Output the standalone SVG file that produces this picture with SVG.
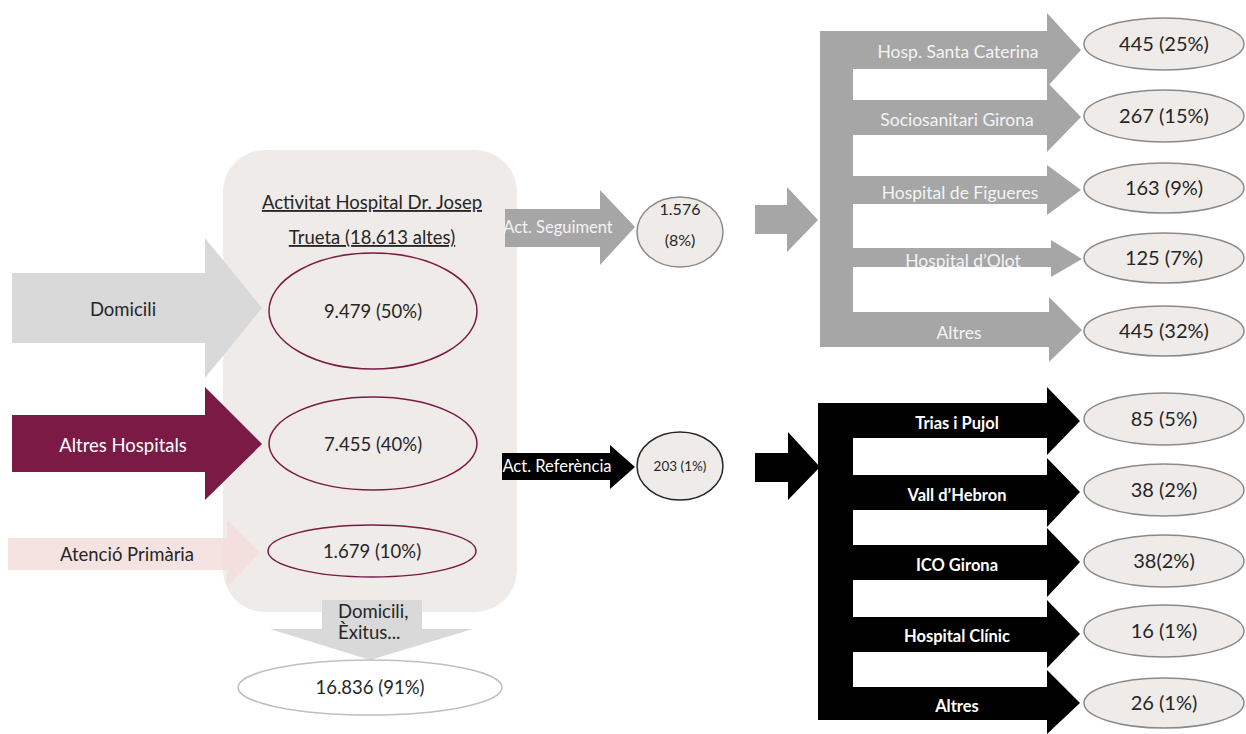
<svg xmlns="http://www.w3.org/2000/svg" width="1246" height="734" viewBox="0 0 1246 734">
<style>
text{font-family:Lato,"Open Sans","Liberation Sans",sans-serif;text-anchor:middle;fill:#262626}
.t20{font-size:20px}
.t18{font-size:18.5px}
.t17{font-size:17.5px}
.t16{font-size:16.5px}
.t15{font-size:16px}
.t13{font-size:13.5px}
.w{fill:#ffffff}
.wg{fill:#f4f4f4}
.b{font-weight:bold}
.gray{fill:#a6a6a6}
.blk{fill:#000000}
.oval{fill:#efebe8;stroke:#8a8a8a;stroke-width:1.5}
.inner{fill:none;stroke:#7a1a45;stroke-width:1.5}
</style>
<rect width="1246" height="734" fill="#ffffff"/>

<g id="hospital">
  <rect x="223" y="150" width="294" height="462" rx="42" fill="#efebe8"/>
  <text class="t18" x="372" y="209" text-decoration="underline">Activitat Hospital Dr. Josep</text>
  <text class="t18" x="372" y="244" text-decoration="underline">Trueta (18.613 altes)</text>
  <g id="n-domicili"><ellipse class="inner" cx="373" cy="311" rx="104" ry="58"/><text class="t18" x="373" y="318">9.479 (50%)</text></g>
  <g id="n-altres"><ellipse class="inner" cx="373" cy="443.5" rx="104" ry="46.5"/><text class="t18" x="373" y="451">7.455 (40%)</text></g>
  <g id="n-primaria"><ellipse class="inner" cx="372" cy="551" rx="104" ry="26"/><text class="t18" x="372" y="558">1.679 (10%)</text></g>
</g>

<g id="sources">
  <g id="domicili">
    <polygon points="12,273 205,273 205,238 262,308 205,378 205,343 12,343" fill="#d9d9d9"/>
    <text class="t18" x="123" y="316">Domicili</text>
  </g>
  <g id="altres-hospitals">
    <polygon points="12,415 205,415 205,387 262,444 205,500 205,472 12,472" fill="#7a1a45"/>
    <text class="t18 w" x="123" y="452">Altres Hospitals</text>
  </g>
  <g id="atencio-primaria">
    <polygon points="8,538 227,538 227,520 260,553 227,587 227,570 8,570" fill="#f2dcdb" opacity="0.8"/>
    <text class="t18" x="127" y="561">Atenció Primària</text>
  </g>
</g>

<g id="connectors">
  <g id="sortida">
    <polygon points="322,600 422,600 422,629 473,629 370,660 270,629 322,629" fill="#d9d9d9"/>
    <text class="t18" x="338" y="618" style="text-anchor:start">Domicili,</text>
    <text class="t18" x="338" y="639" style="text-anchor:start">Èxitus...</text>
  </g>
  <g id="act-seguiment">
    <polygon points="505,209 600,209 600,190 635,227 600,265 600,247 505,247" class="gray"/>
    <text class="t16 wg" x="558" y="233">Act. Seguiment</text>
  </g>
  <polygon id="to-seguiment" points="755,205 787,205 787,187 818,220 787,252 787,234 755,234" class="gray"/>
  <g id="act-referencia">
    <polygon points="502,453 610,453 610,445 635,467 610,489 610,480 502,480" class="blk"/>
    <text class="t16 w" x="557" y="472">Act. Referència</text>
  </g>
  <polygon id="to-referencia" points="755,453 788,453 788,432 820,467 788,500 788,482 755,482" class="blk"/>

  <g id="seguiment-branches">
    <rect x="820" y="31" width="33" height="316" class="gray"/>
    <polygon points="820,31 1047,31 1047,13 1081,50 1047,87 1047,69 820,69" class="gray"/>
    <polygon points="820,100 1047,100 1047,82 1081,117 1047,152 1047,135 820,135" class="gray"/>
    <polygon points="820,176 1047,176 1047,165 1081,190 1047,215 1047,204 820,204" class="gray"/>
    <polygon points="820,248 1051,248 1051,240 1082,259 1051,277 1051,267 820,267" class="gray"/>
    <polygon points="820,312 1049,312 1049,297 1082,330 1049,362 1049,347 820,347" class="gray"/>
    <text class="t17 wg" x="958" y="58">Hosp. Santa Caterina</text>
    <text class="t17 wg" x="957" y="126">Sociosanitari Girona</text>
    <text class="t17 wg" x="960" y="199">Hospital de Figueres</text>
    <text class="t17 wg" x="963" y="267">Hospital d’Olot</text>
    <text class="t17 wg" x="959" y="339">Altres</text>
  </g>

  <g id="referencia-branches">
    <rect x="818" y="403" width="35" height="317" class="blk"/>
    <polygon points="818,403 1047,403 1047,387 1080,421 1047,455 1047,438 818,438" class="blk"/>
    <polygon points="818,475 1047,475 1047,458 1080,492 1047,527 1047,510 818,510" class="blk"/>
    <polygon points="818,545 1047,545 1047,528 1080,562 1047,597 1047,580 818,580" class="blk"/>
    <polygon points="818,617 1047,617 1047,600 1080,634 1047,668 1047,652 818,652" class="blk"/>
    <polygon points="818,687 1047,687 1047,670 1080,703 1047,734 1047,720 818,720" class="blk"/>
    <text class="t16 w b" x="957" y="429">Trias i Pujol</text>
    <text class="t16 w b" x="957" y="501">Vall d’Hebron</text>
    <text class="t16 w b" x="957" y="571">ICO Girona</text>
    <text class="t16 w b" x="957" y="642">Hospital Clínic</text>
    <text class="t16 w b" x="957" y="712">Altres</text>
  </g>
</g>

<g id="exit">
  <ellipse cx="370" cy="687.5" rx="132" ry="27.5" fill="#ffffff" stroke="#bfbfbf" stroke-width="1.5"/>
  <text class="t18" x="370" y="694">16.836 (91%)</text>
</g>

<g id="seguiment">
  <ellipse class="oval" cx="680" cy="232" rx="43" ry="35"/>
  <text class="t15" x="680" y="215">1.576</text>
  <text class="t15" x="680" y="246">(8%)</text>
</g>
<g id="referencia">
  <ellipse cx="680" cy="466" rx="43" ry="34" fill="#efebe8" stroke="#262626" stroke-width="1.5"/>
  <text class="t13" x="680" y="471">203 (1%)</text>
</g>

<g id="seg-santa-caterina"><ellipse class="oval" cx="1164" cy="44" rx="80" ry="26"/><text class="t20" x="1164" y="51">445 (25%)</text></g>
<g id="seg-sociosanitari"><ellipse class="oval" cx="1164" cy="116" rx="80" ry="26"/><text class="t20" x="1164" y="123">267 (15%)</text></g>
<g id="seg-figueres"><ellipse class="oval" cx="1164" cy="188" rx="80" ry="25"/><text class="t20" x="1164" y="195">163 (9%)</text></g>
<g id="seg-olot"><ellipse class="oval" cx="1164" cy="258" rx="80" ry="25"/><text class="t20" x="1164" y="265">125 (7%)</text></g>
<g id="seg-altres"><ellipse class="oval" cx="1164" cy="331" rx="80" ry="25"/><text class="t20" x="1164" y="338">445 (32%)</text></g>

<g id="ref-trias"><ellipse class="oval" cx="1164" cy="419" rx="80" ry="26"/><text class="t20" x="1164" y="426">85 (5%)</text></g>
<g id="ref-vall"><ellipse class="oval" cx="1164" cy="490" rx="80" ry="26"/><text class="t20" x="1164" y="497">38 (2%)</text></g>
<g id="ref-ico"><ellipse class="oval" cx="1164" cy="561" rx="80" ry="26"/><text class="t20" x="1164" y="568">38(2%)</text></g>
<g id="ref-clinic"><ellipse class="oval" cx="1164" cy="631" rx="80" ry="26"/><text class="t20" x="1164" y="638">16 (1%)</text></g>
<g id="ref-altres"><ellipse class="oval" cx="1164" cy="703" rx="80" ry="25"/><text class="t20" x="1164" y="710">26 (1%)</text></g>
</svg>
